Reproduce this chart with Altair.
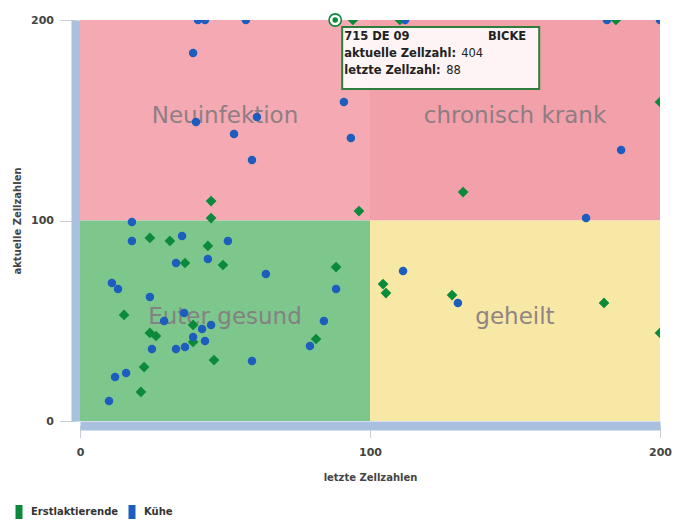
import altair as alt
import pandas as pd

# ---- data ----
kuehe_x = [40.7, 43.1, 57.2, 112.1, 181.7, 200, 39.0, 40.0, 61.0, 53.1, 59.3, 91.0, 93.4, 186.6, 174.5,
           17.9, 17.9, 35.2, 51.0, 33.1, 44.1, 64.1, 88.3, 11.0, 13.1, 24.1, 29.0, 35.9, 42.1, 45.2,
           39.0, 43.1, 24.8, 33.1, 36.2, 59.3, 15.9, 12.1, 10.0, 84.1, 79.3, 111.4, 130.3]
kuehe_y = [200, 200, 200, 200, 200, 200, 183.5, 149.1, 151.6, 143.1, 130.2, 159.1, 141.1, 135.2, 101.2,
           99.3, 89.8, 92.3, 89.8, 78.8, 80.8, 73.3, 65.8, 68.8, 65.8, 61.8, 49.9, 53.9, 45.9, 47.9,
           41.9, 39.9, 35.9, 35.9, 36.9, 29.9, 23.9, 21.9, 10.0, 49.9, 37.4, 74.8, 58.9]

erst_x = [94.1, 110.3, 184.8, 45.2, 45.2, 132.1, 96.2, 200, 24.1, 31.0, 44.1, 36.2, 49.3, 88.3,
          15.2, 39.0, 24.1, 26.2, 39.0, 46.2, 22.1, 21.0, 81.4, 104.5, 105.5, 128.3, 180.7, 200]
erst_y = [200, 200, 200, 109.7, 101.2, 114.2, 104.7, 159.1, 91.3, 89.8, 87.3, 78.8, 77.8, 76.8,
          52.9, 47.9, 43.9, 42.4, 39.4, 30.4, 26.9, 14.5, 40.9, 68.3, 63.8, 62.8, 58.9, 43.9]

groups = ["Erstlaktierende", "Kühe"]
group_colors = ["#0B8A3C", "#1C5DBE"]
group_shapes = ["diamond", "circle"]

region_names = ["Neuinfektion", "chronisch krank", "Euter gesund", "geheilt"]
region_x0 = [0, 100, 0, 100]
region_x1 = [100, 200, 100, 200]
region_y0 = [100, 100, 0, 0]
region_y1 = [200, 200, 100, 100]
region_colors = ["#F5AAB3", "#F2A0AA", "#7DC78D", "#F8E8A6"]

# highlighted cow (tooltip)
sel_x = [88]
sel_y = [200]
tip_id = "715 DE 09"
tip_name = "BICKE"
tip_lines = ["aktuelle Zellzahl:", "letzte Zellzahl:"]
tip_values = ["404", "88"]

FONT = "DejaVu Sans"

# ---- tables ----
pts = pd.DataFrame({
    "x": erst_x + kuehe_x,
    "y": erst_y + kuehe_y,
    "gruppe": [groups[0]] * len(erst_x) + [groups[1]] * len(kuehe_x),
})
regions = pd.DataFrame({
    "name": region_names, "x0": region_x0, "x1": region_x1,
    "y0": region_y0, "y1": region_y1, "color": region_colors,
})
regions["cx"] = (regions["x0"] + regions["x1"]) / 2
regions["cy"] = (regions["y0"] + regions["y1"]) / 2 + 2
sel = pd.DataFrame({"x": sel_x, "y": sel_y})

xscale = alt.Scale(domain=[0, 200], nice=False, zero=False)
yscale = alt.Scale(domain=[0, 200], nice=False, zero=False)

axis_common = dict(
    grid=False, domainColor="#A9C1DF", domainWidth=9, offset=4.5,
    tickColor="#C9CFD8", tickWidth=1,
    labelFont=FONT, labelFontSize=11, labelFontWeight="bold", labelColor="#444444",
    titleFont=FONT, titleFontSize=10, titleFontWeight="bold", titleColor="#444444",
    labelFlush=False, labelOverlap=False,
)
xaxis = alt.Axis(values=[0, 100, 200], title="letzte Zellzahlen", tickSize=12,
                 labelPadding=9, titlePadding=15, **axis_common)
yaxis = alt.Axis(values=[0, 100, 200], title="aktuelle Zellzahlen", tickSize=16,
                 labelPadding=6, titlePadding=8, **axis_common)

def X(f):
    return alt.X(f, type="quantitative", scale=xscale, axis=xaxis)

def Y(f):
    return alt.Y(f, type="quantitative", scale=yscale, axis=yaxis)

rects = alt.Chart(regions).mark_rect(stroke=None).encode(
    x=X("x0"), x2="x1", y=Y("y0"), y2="y1",
    color=alt.Color("color:N", scale=None),
)

region_text = alt.Chart(regions).mark_text(
    font=FONT, fontSize=23, color="#857A80", opacity=0.9, align="center", baseline="middle"
).encode(x=X("cx"), y=Y("cy"), text="name:N")

points = alt.Chart(pts).mark_point(filled=True, opacity=1, clip=True).encode(
    x=X("x"), y=Y("y"),
    color=alt.Color("gruppe:N", scale=alt.Scale(domain=groups, range=group_colors),
                    legend=alt.Legend(
                        title=None, orient="none", legendX=-68, legendY=485,
                        direction="horizontal",
                        symbolType="M-0.5,-1L0.5,-1L0.5,1L-0.5,1Z", symbolSize=196,
                        symbolStrokeWidth=0, labelFont=FONT, labelFontSize=10,
                        labelFontWeight="bold", labelColor="#333333", labelOffset=5,
                        columnPadding=6, padding=0)),
    shape=alt.Shape("gruppe:N", scale=alt.Scale(domain=groups, range=group_shapes), legend=None),
    size=alt.Size("gruppe:N", scale=alt.Scale(domain=groups, range=[115, 72]), legend=None),
    order=alt.Order("gruppe:N"),
)

sel_ring = alt.Chart(sel).mark_point(
    shape="circle", filled=True, fill="white", stroke="#0B8A3C", strokeWidth=1.6, size=150, opacity=1
).encode(x=X("x"), y=Y("y"))
sel_dot = alt.Chart(sel).mark_point(
    shape="circle", filled=True, color="#0B8A3C", size=30, opacity=1
).encode(x=X("x"), y=Y("y"))

tip_box = alt.Chart(sel).mark_rect(
    fill="#FFFFFF", fillOpacity=0.88, stroke="#2E7D3A", strokeWidth=2,
    xOffset=7, x2Offset=204, yOffset=7, y2Offset=69
).encode(x=X("x"), x2="x", y=Y("y"), y2="y")

tip_df = pd.DataFrame({
    "x": sel_x * 6, "y": sel_y * 6,
    "t": [tip_id, tip_name, tip_lines[0], tip_lines[1], tip_values[0], tip_values[1]],
    "dx": [9, 191, 9, 9, 126, 111],
    "dy": [17, 17, 34, 51, 34, 51],
    "al": ["left", "right", "left", "left", "left", "left"],
    "w": ["bold", "bold", "bold", "bold", "normal", "normal"],
})
tip_texts = []
for i in range(len(tip_df)):
    r = tip_df.iloc[[i]]
    tip_texts.append(
        alt.Chart(r).mark_text(
            font=FONT, fontSize=11.5, fontWeight=r["w"].iloc[0], color="#222222",
            align=r["al"].iloc[0], baseline="middle",
            dx=int(r["dx"].iloc[0]), dy=int(r["dy"].iloc[0]),
        ).encode(x=X("x"), y=Y("y"), text="t:N")
    )

chart = alt.layer(rects, region_text, points, sel_ring, sel_dot, tip_box, *tip_texts).properties(
    width=580, height=401,
    padding={"left": 72, "top": 12, "right": 21, "bottom": 98},
    autosize=alt.AutoSizeParams(type="none"),
).configure_view(stroke=None).resolve_scale(color="independent")

chart.save("out.html", embed_options={"renderer": "svg", "actions": False})
